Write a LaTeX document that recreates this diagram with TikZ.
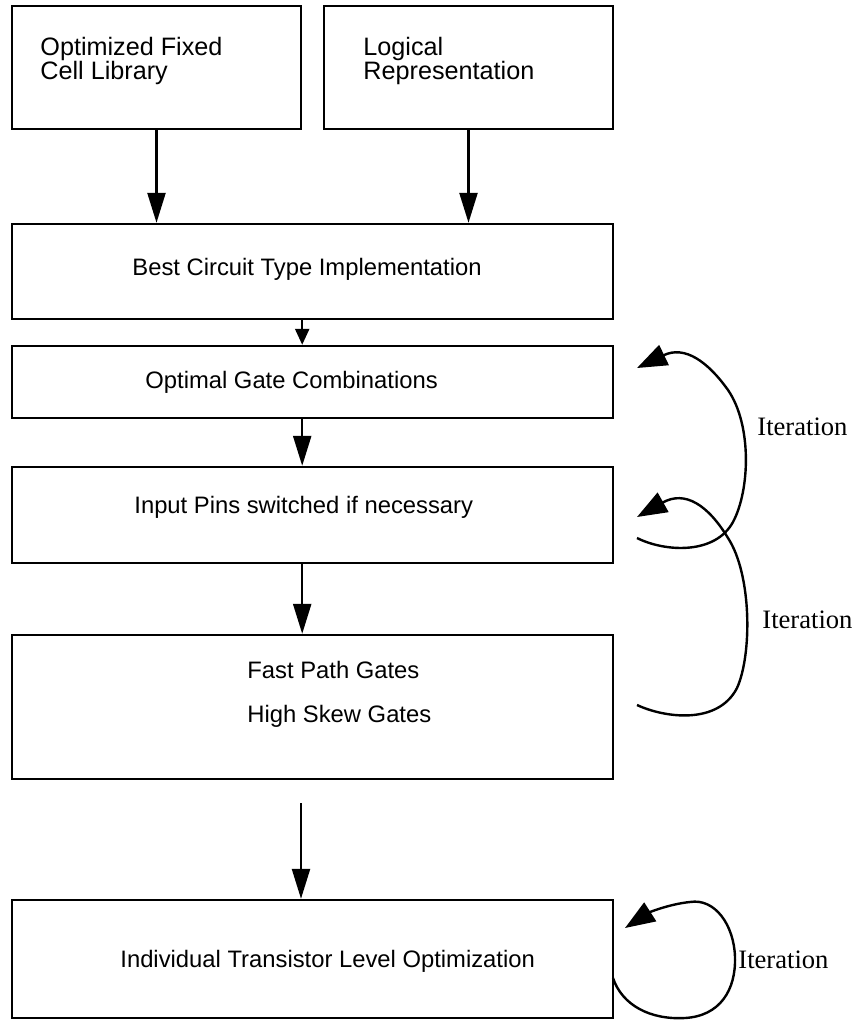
\documentclass[tikz,border=0pt]{standalone}
\usepackage{fontspec}
\setmainfont{Liberation Serif}
\newfontfamily\boxfont{Liberation Sans}
\usetikzlibrary{arrows.meta}
\begin{document}
\begin{tikzpicture}[x=0.5pt,y=-0.5pt,
  blk/.style={draw, line width=1.2pt, inner sep=0pt},
  lbl/.style={font=\boxfont\fontsize{11.9}{11.5}\selectfont, inner sep=0pt, anchor=base west},
  toplbl/.style={font=\boxfont\fontsize{12.6}{12}\selectfont, inner sep=0pt, anchor=base west},
  itlbl/.style={font=\fontsize{13.3}{14}\selectfont, inner sep=0pt, anchor=base west},
  flow/.style={line width=1.2pt, -{Triangle[length=15pt,width=9pt]}},
  shortflow/.style={line width=1.2pt, -{Triangle[length=8pt,width=7pt]}},
  loop/.style={line width=1.2pt, -{Triangle[length=15pt,width=11pt]}}]
\useasboundingbox (0,0) rectangle (857,1023);

% process boxes
\node[blk, minimum width=144.5pt, minimum height=61.5pt] (b1) at (156.5,67.5) {};
\node[blk, minimum width=144.5pt, minimum height=61.5pt] (b2) at (468.5,67.5) {};
\node[blk, minimum width=300.5pt, minimum height=47.5pt] (b3) at (312.5,271.5) {};
\node[blk, minimum width=300.5pt, minimum height=36pt]   (b4) at (312.5,382) {};
\node[blk, minimum width=300.5pt, minimum height=48pt]   (b5) at (312.5,515) {};
\node[blk, minimum width=300.5pt, minimum height=72pt]   (b6) at (312.5,707) {};
\node[blk, minimum width=300.5pt, minimum height=59pt]   (b7) at (312.5,959) {};

% box texts
\node[toplbl] (t1a) at (40,55) {Optimized Fixed};
\node[toplbl] (t1b) at (40,79) {Cell Library};
\node[toplbl] (t2a) at (363,55) {Logical};
\node[toplbl] (t2b) at (363,79) {Representation};
\node[lbl] (t3) at (132,275) {Best Circuit Type Implementation};
\node[lbl] (t4) at (145,388.5) {Optimal Gate Combinations};
\node[lbl] (t5) at (134,513) {Input Pins switched if necessary};
\node[lbl] (t6a) at (247,678.5) {Fast Path Gates};
\node[lbl] (t6b) at (247,722.5) {High Skew Gates};
\node[lbl] (t7) at (120,967.5) {Individual Transistor Level Optimization};

% main flow
\draw[flow] (b1.south) -- (b1.south |- b3.north);
\draw[flow] (b2.south) -- (b2.south |- b3.north);
\draw[shortflow] (b3.south -| b1.east) -- (b4.north -| b1.east);
\draw[flow] (b4.south -| b1.east) -- (b5.north -| b1.east);
\draw[flow] (b5.south -| b1.east) -- (b6.north -| b1.east);
\coordinate (c6) at (301,803);
\draw[flow] (c6) -- (b7.north -| c6);

% iteration loops
\coordinate (l1s) at (637,538);
\coordinate (l1e) at (637,368);
\draw[loop] (l1s) .. controls (665,552) and (715,555) .. (733,522)
  .. controls (750,490) and (752,425) .. (728,390)
  .. controls (708,362) and (685,345) .. (l1e);

\coordinate (l2s) at (637,705);
\coordinate (l2e) at (637,517);
\draw[loop] (l2s) .. controls (665,718) and (718,725) .. (737,688)
  .. controls (752,655) and (752,575) .. (728,538)
  .. controls (708,505) and (685,490) .. (l2e);

\coordinate (l3s) at (613,978);
\coordinate (l3e) at (625,928);
\draw[loop] (l3s) .. controls (622,1005) and (650,1020) .. (685,1018)
  .. controls (720,1016) and (736,990) .. (735,957)
  .. controls (734,925) and (715,898) .. (690,902)
  .. controls (670,904) and (650,912) .. (l3e);

\node[itlbl] (it1) at (757,435) {Iteration};
\node[itlbl] (it2) at (762,628) {Iteration};
\node[itlbl] (it3) at (738,968) {Iteration};
\end{tikzpicture}
\end{document}
